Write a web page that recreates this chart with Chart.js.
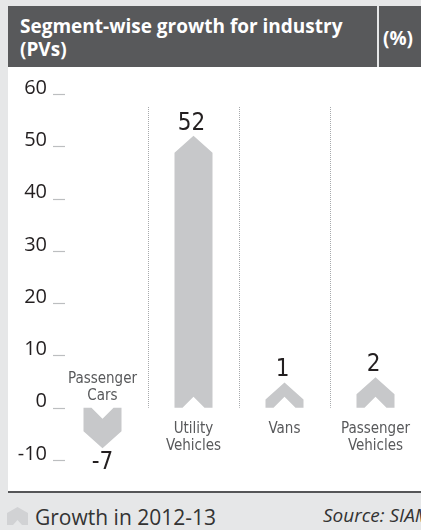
<!DOCTYPE html>
<html>
<head>
<meta charset="utf-8">
<script src="https://cdn.jsdelivr.net/npm/chart.js@4.4.0/dist/chart.umd.min.js"></script>
<style>
  html, body { margin:0; padding:0; }
  body { width:421px; height:530px; overflow:hidden; background:#e6e7e8; position:relative; font-family:"Open Sans", sans-serif; }
  #header { position:absolute; left:8px; top:6px; width:413px; height:61px; background:#58595b; }
  #title { position:absolute; left:12px; top:9px; width:352px; color:#fff; font:bold 19px/23px "Open Sans", sans-serif; }
  #hdiv { position:absolute; left:369px; top:0; width:2px; height:61px; background:#e6e7e8; }
  #unit { position:absolute; left:375px; top:21px; color:#fff; font:bold 19px/23px "Open Sans", sans-serif; }
  #plot { position:absolute; left:8px; top:67px; width:413px; height:424px; background:#fff; }
  #chartWrap { position:absolute; left:8px; top:77px; width:413px; height:414px; }
  #rule { position:absolute; left:8px; top:491px; width:413px; height:2px; background:#555658; }
  #legIcon { position:absolute; left:7px; top:507px; }
  #legText { position:absolute; left:35px; top:503px; font:21px/28px "Open Sans", sans-serif; color:#333; white-space:nowrap; }
  #source { position:absolute; left:323px; top:504px; font:italic 19px/22px "Open Sans", sans-serif; color:#333; white-space:nowrap; }
</style>
</head>
<body>
<div id="header">
  <div id="title"></div>
  <div id="hdiv"></div>
  <div id="unit"></div>
</div>
<div id="plot"></div>
<div id="chartWrap"><canvas id="c" width="413" height="414"></canvas></div>
<div id="rule"></div>
<svg id="legIcon" width="22" height="19" viewBox="0 0 22 19"><polygon points="0,18 0,6 10.5,0 21,6 21,18 15,18 10.5,13 6,18" fill="#d1d2d4"/></svg>
<div id="legText"></div>
<div id="source"></div>
<script>
// ---- data ----
const chartTitle = "Segment-wise growth for industry (PVs)";
const unitLabel = "(%)";
const categories = [["Passenger", "Cars"], ["Utility", "Vehicles"], ["Vans"], ["Passenger", "Vehicles"]];
const growth = [-7, 52, 1, 2];
const seriesLabel = "Growth in 2012-13";
const sourceNote = "Source: SIAM";
const yMin = -10, yMax = 60, yStep = 10;

document.getElementById('title').textContent = chartTitle;
document.getElementById('unit').textContent = unitLabel;
document.getElementById('legText').textContent = seriesLabel;
document.getElementById('source').textContent = sourceNote;

const barColor = '#c7c8ca';

const decorPlugin = {
  id: 'decor',
  beforeDatasetsDraw(chart) {
    const ctx = chart.ctx;
    const meta = chart.getDatasetMeta(0);
    const ys = chart.scales.y;
    const zero = ys.getPixelForValue(0);
    const top = ys.top + 13;
    ctx.save();
    ctx.strokeStyle = '#a7a9ac';
    ctx.lineWidth = 1;
    ctx.setLineDash([1, 1]);
    for (let i = 1; i < meta.data.length; i++) {
      const x = Math.round((meta.data[i - 1].x + meta.data[i].x) / 2) + 0.5;
      ctx.beginPath();
      ctx.moveTo(x, top);
      ctx.lineTo(x, zero);
      ctx.stroke();
    }
    ctx.setLineDash([]);
    // y tick dashes
    ctx.strokeStyle = '#bcbec0';
    ctx.lineWidth = 1.2;
    ys.ticks.forEach(t => {
      const y = Math.round(ys.getPixelForValue(t.value)) + 0.5;
      ctx.beginPath();
      ctx.moveTo(chart.chartArea.left - 4, y);
      ctx.lineTo(chart.chartArea.left + 8, y);
      ctx.stroke();
    });
    ctx.restore();
  },
  afterDatasetsDraw(chart) {
    const ctx = chart.ctx;
    const meta = chart.getDatasetMeta(0);
    ctx.save();
    meta.data.forEach((bar, i) => {
      const v = growth[i];
      const p = bar.getProps(['x', 'y', 'base', 'width'], true);
      const dir = v >= 0 ? -1 : 1;
      const len = Math.abs(p.y - p.base);
      const extra = len < 20 ? 20 : (len < 100 ? 4 : 0);
      const base = p.base;
      const tip = base + dir * (len + extra);
      const head = 17, nw = 11, nh = 11;
      const L = p.x - p.width / 2, R = p.x + p.width / 2;
      const shoulder = tip - dir * head;
      ctx.fillStyle = barColor;
      ctx.beginPath();
      ctx.moveTo(L, base);
      ctx.lineTo(L, shoulder);
      ctx.lineTo(p.x, tip);
      ctx.lineTo(R, shoulder);
      ctx.lineTo(R, base);
      ctx.lineTo(p.x + nw, base);
      ctx.lineTo(p.x, base + dir * nh);
      ctx.lineTo(p.x - nw, base);
      ctx.closePath();
      ctx.fill();
      // value label
      ctx.fillStyle = '#231f20';
      ctx.font = '24px "Liberation Sans Narrow", "DejaVu Sans Condensed", sans-serif';
      ctx.textAlign = 'center';
      ctx.textBaseline = 'alphabetic';
      if (v >= 0) ctx.fillText(String(v), p.x - 2, tip - 6);
      else ctx.fillText(String(v), p.x, tip + 21);
      // category label
      ctx.fillStyle = '#58595b';
      ctx.font = '15px "Liberation Sans Narrow", "DejaVu Sans Condensed", sans-serif';
      const lines = categories[i];
      const lh = 17;
      if (v >= 0) {
        lines.forEach((s, k) => ctx.fillText(s, p.x, base + 25 + k * lh));
      } else {
        lines.forEach((s, k) => ctx.fillText(s, p.x, base - 8 - (lines.length - 1 - k) * lh));
      }
    });
    ctx.restore();
  }
};

new Chart(document.getElementById('c'), {
  type: 'bar',
  data: {
    labels: categories.map(c => c.join(' ')),
    datasets: [{
      label: seriesLabel,
      data: growth,
      backgroundColor: 'rgba(0,0,0,0)',
      borderWidth: 0,
      barThickness: 38
    }]
  },
  options: {
    responsive: false,
    animation: false,
    layout: { padding: { top: 17, bottom: 31, left: 0, right: 0 } },
    plugins: { legend: { display: false }, tooltip: { enabled: false } },
    scales: {
      x: { display: false },
      y: {
        min: yMin, max: yMax,
        afterFit(scale) { scale.width = 49; scale.paddingTop = 0; scale.paddingBottom = 0; },
        border: { display: false },
        grid: { display: false, drawTicks: false },
        ticks: {
          stepSize: yStep,
          padding: 10,
          labelOffset: -6,
          color: '#231f20',
          font: { family: '"Open Sans", sans-serif', size: 20 }
        }
      }
    }
  },
  plugins: [decorPlugin]
});
</script>
</body>
</html>
